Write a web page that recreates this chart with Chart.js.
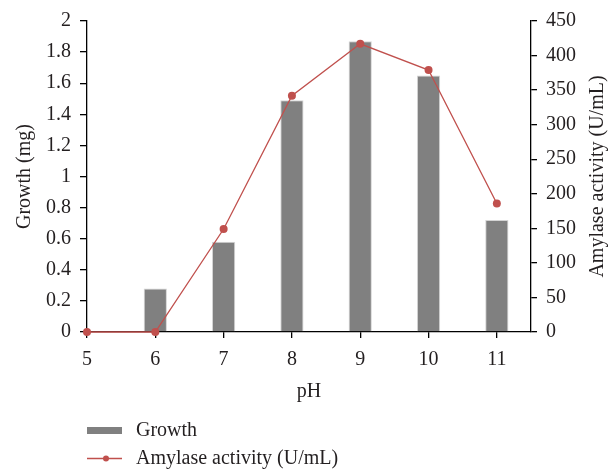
<!DOCTYPE html>
<html>
<head>
<meta charset="utf-8">
<script src="https://cdn.jsdelivr.net/npm/chart.js@4/dist/chart.umd.min.js"></script>
<style>
  html, body { margin: 0; padding: 0; background: #fff; }
  #wrap { width: 614px; height: 472px; }
</style>
</head>
<body>
<div id="wrap"><canvas id="chart"></canvas></div>
<script>
const phValues = [5, 6, 7, 8, 9, 10, 11];
const growth = [0, 0.28, 0.58, 1.49, 1.87, 1.65, 0.72];
const amylase = [0, 0, 149, 342, 417, 379, 186];

const growthLabel = 'Growth';
const amylaseLabel = 'Amylase activity (U/mL)';
const xTitle = 'pH';
const leftTitle = 'Growth (mg)';
const rightTitle = 'Amylase activity (U/mL)';

const serif = 'Liberation Serif';
const ink = '#231f20';
const barColor = '#808080';
const lineColor = '#c0504d';

// right title reads bottom-to-top in the original, so draw it by hand
const rightTitlePlugin = {
  id: 'rightTitle',
  afterDraw(chart) {
    const c = chart.ctx;
    const area = chart.chartArea;
    c.save();
    c.translate(598, (area.top + area.bottom) / 2);
    c.rotate(-Math.PI / 2);
    c.font = '20px "' + serif + '"';
    c.fillStyle = ink;
    c.textAlign = 'center';
    c.textBaseline = 'middle';
    c.fillText(rightTitle, 0, 0);
    c.restore();
  }
};

// stacked legend at bottom-left
const legendPlugin = {
  id: 'stackLegend',
  afterDraw(chart) {
    const c = chart.ctx;
    c.save();
    c.font = '20px "' + serif + '"';
    c.fillStyle = ink;
    c.textAlign = 'left';
    c.textBaseline = 'middle';

    c.fillStyle = barColor;
    c.fillRect(87, 427, 35, 7);
    c.fillStyle = ink;
    c.fillText(chart.data.datasets[0].label, 136, 431);

    c.strokeStyle = lineColor;
    c.lineWidth = 1.3;
    c.beginPath();
    c.moveTo(87, 458.5);
    c.lineTo(122, 458.5);
    c.stroke();
    c.fillStyle = lineColor;
    c.beginPath();
    c.arc(106, 458.5, 3, 0, Math.PI * 2);
    c.fill();
    c.fillStyle = ink;
    c.fillText(chart.data.datasets[1].label, 136, 459);
    c.restore();
  }
};

const ctx = document.getElementById('chart').getContext('2d');

const chart = new Chart(ctx, {
  type: 'bar',
  data: {
    datasets: [{
      label: growthLabel,
      data: phValues.map((p, i) => ({x: p, y: growth[i]})),
      backgroundColor: barColor,
      borderColor: '#d4d4d4',
      borderWidth: 1,
      barPercentage: 0.34,
      categoryPercentage: 1,
      yAxisID: 'y',
      order: 2
    }, {
      type: 'line',
      label: amylaseLabel,
      data: phValues.map((p, i) => ({x: p, y: amylase[i]})),
      borderColor: lineColor,
      backgroundColor: lineColor,
      borderWidth: 1.3,
      pointRadius: 4,
      pointBorderWidth: 0,
      tension: 0,
      clip: false,
      yAxisID: 'y2',
      order: 1
    }]
  },
  options: {
    responsive: true,
    maintainAspectRatio: false,
    animation: false,
    layout: {
      padding: {top: 20, left: 0, right: 0, bottom: 68}
    },
    plugins: {
      legend: {display: false},
      tooltip: {enabled: false}
    },
    scales: {
      x: {
        type: 'linear',
        min: 5,
        max: 11.5,
        offset: false,
        afterFit: function(scale) { scale.height = 72; },
        grid: {
          offset: false,
          drawOnChartArea: false,
          drawTicks: true,
          tickLength: 6,
          color: '#000',
          lineWidth: 1.3
        },
        border: {color: '#000', width: 1.3},
        ticks: {
          stepSize: 1,
          includeBounds: false,
          padding: 10,
          color: ink,
          font: {family: serif, size: 20}
        },
        title: {
          display: true,
          text: xTitle,
          color: ink,
          font: {family: serif, size: 20},
          padding: 0
        }
      },
      y: {
        type: 'linear',
        position: 'left',
        min: 0,
        max: 2,
        afterFit: function(scale) { scale.width = 87; },
        grid: {
          drawOnChartArea: false,
          drawTicks: true,
          tickLength: 7,
          color: '#000',
          lineWidth: 1.3
        },
        border: {color: '#000', width: 1.3},
        ticks: {
          stepSize: 0.2,
          padding: 9,
          color: ink,
          font: {family: serif, size: 20},
          callback: function(value) {
            return String(+value.toFixed(1));
          }
        },
        title: {
          display: true,
          text: leftTitle,
          color: ink,
          font: {family: serif, size: 20},
          padding: {top: 13, bottom: 0}
        }
      },
      y2: {
        type: 'linear',
        position: 'right',
        min: 0,
        max: 450,
        afterFit: function(scale) { scale.width = 83; },
        grid: {
          drawOnChartArea: false,
          drawTicks: true,
          tickLength: 6,
          color: '#000',
          lineWidth: 1.3
        },
        border: {color: '#000', width: 1.3},
        ticks: {
          stepSize: 50,
          padding: 9,
          color: ink,
          font: {family: serif, size: 20}
        }
      }
    }
  },
  plugins: [rightTitlePlugin, legendPlugin]
});
</script>
</body>
</html>
